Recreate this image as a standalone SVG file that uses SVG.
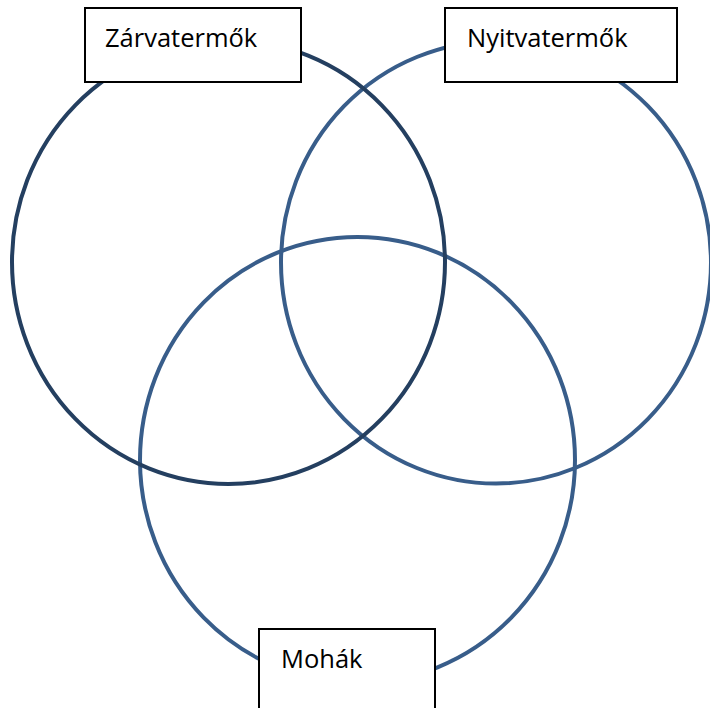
<svg xmlns="http://www.w3.org/2000/svg" width="710" height="708" viewBox="0 0 710 708">
<style>
.c{fill:none;stroke-width:4}
.dark{stroke:#243F60}
.blue{stroke:#385D8A}
.box{fill:#fff;stroke:#000;stroke-width:2}
.t{font-family:"Open Sans","Liberation Sans",sans-serif;font-size:25.5px;fill:#000}
</style>
<rect width="710" height="708" fill="#fff"/>
<g id="connectors">
<ellipse id="circle-right" class="c blue" cx="496" cy="262.5" rx="215" ry="221"/>
<ellipse id="circle-bottom" class="c blue" cx="357.5" cy="460" rx="217.5" ry="223"/>
<ellipse id="circle-left" class="c dark" cx="228.5" cy="262" rx="216.5" ry="222"/>
</g>
<g id="node-zarvatermok">
<rect class="box" x="85" y="8" width="216" height="74"/>
<text class="t" x="105" y="47">Zárvatermők</text>
</g>
<g id="node-nyitvatermok">
<rect class="box" x="445" y="8" width="232" height="74"/>
<text class="t" x="467" y="47">Nyitvatermők</text>
</g>
<g id="node-mohak">
<rect class="box" x="259" y="629" width="176" height="90"/>
<text class="t" x="281" y="668">Mohák</text>
</g>
</svg>
